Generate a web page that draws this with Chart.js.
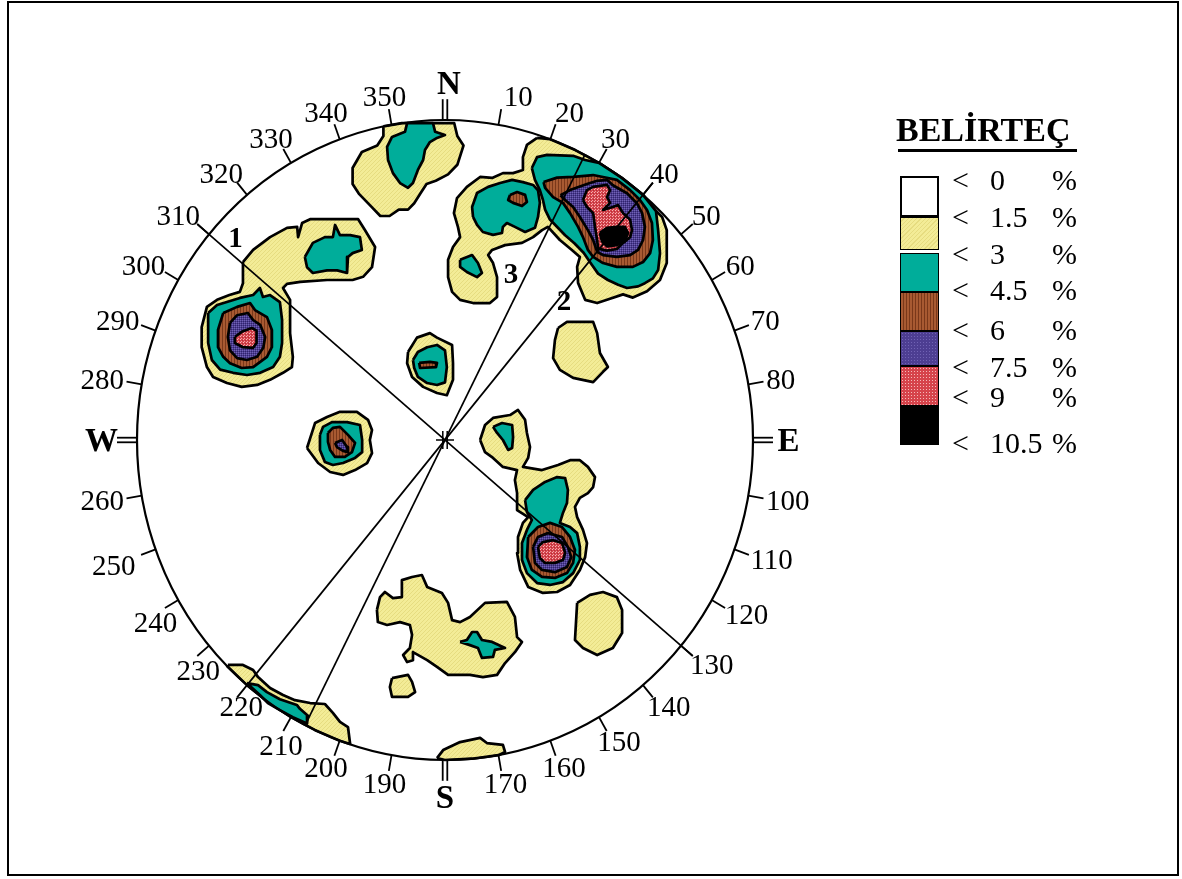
<!DOCTYPE html>
<html lang="tr">
<head>
<meta charset="utf-8">
<title>Kontur diyagramı</title>
<script src="https://cdn.jsdelivr.net/npm/chart.js@4.4.1/dist/chart.umd.min.js"></script>
<style>
  html, body { margin: 0; padding: 0; background: #fff; }
  #page { position: relative; width: 1182px; height: 879px; overflow: hidden;
          font-family: "Liberation Serif", "Times New Roman", serif; color: #000; }
  #frame { position: absolute; left: 7px; top: 1px; width: 1172px; height: 875px;
           border: 2.5px solid #000; box-sizing: border-box; }
  #net { position: absolute; left: 0; top: 0; }
  .legend-title { position: absolute; left: 896px; top: 113px; font-weight: bold;
                  font-size: 34px; line-height: 34px; white-space: nowrap; }
  .legend-rule { position: absolute; left: 898px; top: 149px; width: 179px; height: 2.5px; background: #000; }
  .sw { position: absolute; left: 900px; width: 39px; box-sizing: border-box; border: 1.5px solid #000; }
  .row { position: absolute; font-size: 30px; line-height: 30px; white-space: nowrap; }
</style>
</head>
<body>
<div id="page">
  <canvas id="net" width="1182" height="879"></canvas>
  <div id="frame"></div>
  <div class="legend-title">BELİRTEÇ</div>
  <div class="legend-rule"></div>
  <div id="legend"></div>
</div>
<script>
// compass azimuths of the net ticks and their labels
const azimuths = [10, 20, 30, 40, 50, 60, 70, 80, 100, 110, 120, 130, 140, 150, 160, 170,
                  190, 200, 210, 220, 230, 240, 250, 260, 280, 290, 300, 310, 320, 330, 340, 350];
const tickLabels = azimuths.map(String);
const cardinals = ["N", "E", "S", "W"];
const cardinalAz = [0, 90, 180, 270];

// legend classes (percent)
const legendLevels = ["0", "1.5", "3", "4.5", "6", "7.5", "9", "10.5"];

// traced great circles through the centre (azimuth of the NE / NW end)
const traceNames = ["1", "2", "3"];
const traceAz = [310, 40, 27];

// contour outlines, net units: radius 100, x to east, y to north
// level 1 = 1.5-3 %, 2 = 3-4.5 %, 3 = 4.5-6 %, 4 = 6-7.5 %, 5 = 7.5-9 %, 6 = 9-10.5 %
const north_c1 = [[-20,98],[-14,99],[3,99],[4,95],[6,92],[4,86],[1,83],[-3,81],[-6,80],[-8,77],[-10,74],[-12,72],
  [-15,72],[-18,70],[-21,70],[-24,73],[-28,77],[-30,80],[-30,85],[-27,90],[-22,92],[-20,95]];
const north_c2 = [[-12.3,99],[-3.9,99],[-3.2,96.3],[0,95.3],[-2.6,94.4],[-4.9,93.1],[-6.5,90.6],[-7.1,87.5],
  [-8.8,84.4],[-10.4,80.3],[-12,78.8],[-14.6,80.3],[-16.9,83.4],[-18.5,87.5],[-18.8,91.6],[-17.2,94.7],[-13,96.3]];

const ne_c1 = [[29.9,94.4],[26.6,92.2],[25.3,88.4],[25.3,84.4],[22.1,83.4],[18.8,83.4],[15.3,81.9],[11.4,82.2],
  [7.1,79.1],[3.9,75.6],[2.9,70.9],[4.2,66.6],[4.9,63.4],[2.6,60.3],[1,56.3],[1,50.9],[2.3,46.3],[4.9,43.8],
  [9.1,42.8],[14.6,42.8],[16.9,44.7],[16.9,50.9],[15.6,55.3],[14,57.8],[15.3,59.4],[19.5,60.9],[25,61.6],
  [28.6,63.4],[31.5,65.6],[33.4,66.6],[37.3,62.5],[41.2,59.4],[43.8,57.2],[42.9,54.1],[43.2,49.1],[45.5,43.8],
  [49.4,42.8],[52.6,43.8],[57.8,45.5],[61,44.5],[65.6,46.5],[69.8,50],[72,55.3],[72,65.6],[70.5,69.7],
  [68.2,71.9],[64.3,76.6],[57.4,81.9],[50,86.6],[42.3,90.6],[34.2,94]];
const ne_c2 = [[28.2,85],[29.9,88.4],[33.1,89.1],[41.6,88.8],[45.5,87.5],[50,86.6],[57.4,81.9],[64.3,76.6],
  [68.5,71.5],[69.2,65.6],[69.8,58.4],[69.2,53.1],[67.5,50.5],[64.9,49],[62.7,48],[59.1,47.5],[56.2,48.5],
  [52.9,50],[49.7,52],[47.5,55],[45,58.5],[42,61.5],[39,64],[36.5,66.5],[34,69],[32.5,72],[31.8,75],
  [30.8,78.1],[29.2,81.3]];
const ne_c3 = [[32,80.6],[36.4,82],[41.6,82.2],[48.1,82.8],[51.3,82.2],[55.8,81.3],[60.1,78.1],[63.3,75],
  [65.6,71.9],[67.2,67.8],[67.5,62.5],[66.6,58.4],[64.3,55.6],[61,54.1],[55.8,54.1],[51.3,55.3],[48.1,57.2],
  [46.4,59.4],[44.8,63.4],[43.2,66.6],[40.6,70.9],[38.3,74.1],[35.1,75.9],[32.5,78.8]];
const ne_c4 = [[37.5,76.5],[40.6,78.1],[46.1,80],[49.4,81],[52.6,81.3],[54.5,79.6],[59.1,77.1],[62.3,74],
  [64,70.9],[64.9,66.6],[64.3,62.5],[62.7,59.4],[60.1,57.8],[55.8,57.2],[51.3,57.8],[49.4,58.8],[48.1,62.5],
  [46.4,65.6],[43.8,69.7],[41.6,72.8],[39,75]];
const ne_c5 = [[44.8,75],[46.1,78.1],[48.1,79.1],[52.6,79.7],[53.6,78.1],[52.6,75.9],[53.6,74.1],[51.3,71.9],
  [54.5,72.8],[56.2,73.4],[57.8,70.9],[60.1,68.8],[60.7,65.6],[60.1,63.4],[57.8,61.6],[55.8,59.7],[52.6,59.2],
  [49.7,59.8],[49.4,62.5],[48.7,66.6],[48.1,70.9],[46.1,72.8]];
const ne_c6 = [[50.3,64.7],[52.6,66.3],[55.8,66.6],[58.4,66.6],[59.4,64.7],[58.4,62],[55.8,60.9],[52.6,60.5],[51,62]];
const nne_c2 = [[9.1,69.7],[8.8,72.8],[10.4,77.2],[14,79.1],[17.9,80.3],[21.8,81.3],[25.3,80.6],[28.6,79.7],
  [30.2,78],[30.8,74.1],[30.2,69.7],[29.2,66.3],[26,65],[22.7,66.6],[20.1,67.8],[18.8,66.6],[18.5,64.7],
  [15.6,64.1],[12.3,65],[10.4,67.2]];
const nne_c3 = [[21.1,76.6],[23.4,77.5],[26,76.6],[26.6,74.4],[25,73.1],[22.1,74.1],[20.5,75]];
const nne_low_c2 = [[4.9,56.3],[8.8,57.8],[10.7,55.3],[12,52.2],[10.4,50.9],[7.1,52.5],[4.9,54.1]];

const nw_c1 = [[-65.6,55.6],[-62.3,59.4],[-56.8,63.4],[-51.3,66.3],[-48,66.6],[-47.7,63.4],[-46.4,67.8],
  [-43.8,69],[-28.2,69],[-26,65.6],[-22.7,60.3],[-23.7,54],[-26.6,51],[-30,50],[-38.3,50],[-47,49.4],
  [-51.3,48.8],[-52.6,47.5],[-50.3,43.8],[-50.3,40.6],[-50.3,33.4],[-49.4,26],[-49.7,22.8],[-52.6,21],
  [-56.8,18.8],[-61,17.2],[-66,16.6],[-70.8,17.8],[-75.3,19.7],[-77.3,22.8],[-79,29],[-79,35.3],[-77.3,41.6],
  [-74,43.8],[-70,45.3],[-66.6,46.3],[-65.6,49],[-65.6,53]];
const nnw_c2 = [[-45.5,57.2],[-42.9,61.6],[-39,63.4],[-36.4,63.4],[-35.7,67.2],[-34.1,64],[-30.8,64],[-27.6,63.4],
  [-27,59.4],[-30,58.4],[-31.5,57.2],[-31.8,52.2],[-35,53],[-38.3,53],[-42.9,52.2],[-44.8,54]];
const nw_c2 = [[-76.9,39.7],[-74,42.2],[-66.6,44.4],[-62.3,45.3],[-60.1,47.5],[-59.1,44.7],[-56.8,45.3],
  [-53.6,43.1],[-52.9,37.5],[-52.9,30.3],[-53.6,26],[-55.8,22.8],[-60,21],[-64.3,20.3],[-68.8,21],[-73,22],
  [-75.7,25],[-76.9,30.3],[-76.9,35.3]];
const nw_c3 = [[-72,39.7],[-67.5,41.6],[-63.3,42.8],[-61.7,40.6],[-57.8,38.4],[-56.2,34.4],[-56.2,29],[-57.8,26],
  [-62.3,22.8],[-66,22.5],[-69.8,24],[-72,26],[-73.7,29],[-73.7,34.4]];
const nw_c4 = [[-69.8,36.6],[-67.5,39],[-64,39.7],[-62.3,37.5],[-60,36],[-58.4,32.2],[-59,28.8],[-61,26],
  [-64.3,25],[-67.5,25.6],[-69.8,28],[-70.5,32.2]];
const nw_c5 = [[-68.2,32.2],[-66,33.8],[-62.7,35],[-61.2,34.2],[-61.2,30.3],[-62.3,28.8],[-65.6,29],[-68.2,30.3]];

const mid_c1 = [[-12,27.5],[-9.1,32],[-4.9,33.4],[-2.6,32],[2.3,29.7],[2.6,24],[2.6,18.8],[0.6,14],[-2.6,14.7],
  [-7.1,16.6],[-10.7,19.7],[-12.3,24]];
const mid_c2 = [[-10.4,25],[-8.8,27.5],[-5.8,29],[-2.6,29.7],[0,28],[0.6,22.8],[0,18],[-2.6,17.2],[-5.8,17.8],
  [-8.8,19.7],[-10,22.5]];
const mid_c3 = [[-8.4,24.1],[-4.9,24.4],[-2.6,24.1],[-2.9,22.8],[-8.1,22.5]];

const west_c1 = [[-44.8,-2.5],[-42.2,5.3],[-38.3,7.2],[-34.1,8.8],[-28.6,8.8],[-25,6.3],[-23.7,3.1],[-24.4,0],
  [-23.7,-4.1],[-25.3,-7.2],[-29.2,-9.4],[-33.1,-10.9],[-37.3,-10],[-41.2,-7.2]];
const west_c2 = [[-40.6,1.6],[-39.6,4.1],[-36.7,5.6],[-31.8,5.6],[-27.6,4.7],[-26.9,0],[-26.9,-3.8],[-29.2,-5.6],
  [-33.1,-7.2],[-36.4,-7.8],[-39,-6.9],[-40.6,-3.1]];
const west_c3 = [[-38,2.2],[-36.4,3.8],[-34.1,4.1],[-31.5,1.6],[-29.2,-0.9],[-30.2,-3.8],[-32.5,-5.3],[-35.7,-5.3],
  [-37.3,-3.1],[-38,-0.6]];
const west_c4 = [[-35.7,-0.9],[-33.4,0],[-31.8,-2.2],[-31.5,-3.8],[-33.1,-3.4],[-35.1,-2.2]];

const se_c1 = [[11.4,0],[13,4.7],[15.6,6.9],[21.1,7.8],[23.7,9.4],[26,6.3],[26.6,2.2],[27.6,-2.2],[27,-5.6],
  [25.3,-8.4],[31.5,-9.4],[36.7,-7.8],[40.6,-6.3],[43.8,-6.3],[46.4,-8.4],[48.7,-11.6],[48.1,-14.7],[46.4,-16.6],
  [43.8,-18.1],[42.2,-20.9],[42.9,-24.1],[44.8,-28.1],[46.1,-32.2],[45.5,-36.6],[43.8,-40.6],[40.6,-45.3],
  [36.4,-47.5],[31.8,-47.8],[27,-45.9],[24.4,-40.6],[23.4,-35.3],[23.7,-30.3],[25.3,-25.9],[27,-24.1],
  [23.4,-21.9],[23.4,-16.6],[22.7,-12.5],[23.4,-9.4],[18.8,-8.4],[15.6,-5.6],[13,-3.8]];
const se_top_c2 = [[15.6,4.1],[18.5,5.3],[21.8,4.7],[22.1,0.9],[21.8,-2.5],[20.5,-3.1],[18.8,0],[16.9,2.2]];
const se_c2 = [[26,-18.8],[28.6,-15.6],[32.5,-13.1],[36.4,-11.6],[39,-11.9],[39.9,-15.6],[39.6,-19.7],[38.3,-22.8],
  [37.3,-25.9],[40.6,-27.2],[42.9,-29.1],[43.8,-33.4],[43.8,-37.5],[41.6,-41.6],[38.3,-44.4],[34.1,-45.3],
  [29.9,-44.7],[26.6,-41.6],[25,-37.5],[25,-32.2],[26.6,-28.1],[28.2,-25],[26.6,-22.5]];
const se_c3 = [[27,-30.3],[30.2,-27.2],[34.1,-25.9],[38,-27.2],[40.6,-30.3],[42.2,-34.4],[41.6,-38.4],[39.6,-41.6],
  [35.7,-43.1],[31.5,-42.8],[28.2,-40.6],[26.6,-36.6]];
const se_c4 = [[28.6,-33.4],[30.2,-30.3],[33.4,-29.1],[38,-30.3],[39.9,-33.4],[41,-36.6],[39.6,-39.7],[35.7,-41.3],
  [31.5,-40.6],[29.2,-38.4]];
const se_c5 = [[30.2,-33.4],[31.8,-31.9],[35.1,-31.3],[38,-32.2],[39,-35.3],[38.3,-37.5],[35.7,-38.4],[32.5,-38.4],
  [30.8,-36.9]];

const east_c1 = [[36.7,35],[39.6,36.9],[48.1,36.9],[49.4,33.4],[50.3,27.2],[52.9,22.8],[51.3,21.3],[48.1,18.1],
  [41.6,19.4],[37.3,21.9],[35.1,25.6],[35.7,31.3]];
const sse_c1 = [[42.9,-50.9],[47.1,-48.4],[51.3,-47.5],[55.8,-49.1],[57.5,-53.1],[57.5,-60.3],[54.5,-65],
  [49.4,-67.2],[44.8,-65],[42.2,-62.5]];
const south_c1 = [[-22.1,-53.1],[-21.1,-49.1],[-19.5,-47.5],[-16.9,-49.4],[-14,-49.1],[-14,-43.8],[-10.7,-42.8],
  [-7.5,-42.2],[-5.8,-45.9],[-1,-47.8],[1,-50.9],[2.3,-56.3],[4.9,-56.9],[8.1,-55.3],[13,-50.9],[20.1,-50.6],
  [22.7,-55.3],[23.4,-61.6],[25,-63.1],[22.7,-66.3],[19.5,-69.7],[16.9,-73.4],[12.3,-74.1],[8.1,-73.4],[1,-73.4],
  [-2.6,-70.9],[-5.8,-68.8],[-10.4,-66.3],[-10.4,-68.8],[-12.3,-69.4],[-13.6,-67.2],[-11.4,-65],[-10.7,-60.9],
  [-11.4,-57.8],[-14.6,-56.9],[-18.8,-57.8],[-21.8,-56.9]];
const south_c2 = [[4.9,-63.1],[7.1,-62.5],[8.8,-60],[10.4,-60],[12,-62.5],[15.3,-63.1],[19.5,-65],[16.2,-65.6],
  [15.6,-67.8],[12,-68.1],[10.7,-65],[8.1,-64.1]];
const ssw_c1 = [[-17.2,-74.4],[-12,-73.4],[-10.7,-75.6],[-9.7,-78.8],[-12,-80.3],[-17.2,-80.3],[-17.9,-77.2]];
const rim_s_c1 = [[-2.6,-99.4],[-0.6,-96.9],[4.9,-94.4],[11.4,-93.1],[13.6,-94.7],[18.8,-95.3],[19.5,-97.5],
  [17.4,-98.5],[8.7,-99.6],[0,-100]];
const rim_sw_c1 = [[-70.5,-70.3],[-65.6,-70.3],[-62.3,-71.9],[-60.7,-74.1],[-56.8,-77.5],[-52.6,-79.7],[-48.7,-81.3],
  [-43.8,-82.2],[-39,-82.5],[-36.4,-85.3],[-34.1,-88.1],[-31.5,-89.7],[-30.8,-95],[-34.2,-94],[-42.3,-90.6],
  [-50,-86.6],[-57.4,-81.9],[-64.3,-76.6],[-70.7,-70.7]];
const rim_sw_c2 = [[-64.3,-76],[-60.7,-76.6],[-57.8,-78.8],[-53.6,-81],[-48.1,-82.8],[-47.1,-84],[-44.5,-86.2],
  [-44.8,-88.6],[-49.4,-86.6],[-53.6,-84.4],[-57.5,-82.2],[-60.1,-79.7]];

const contours = [
  [1, north_c1], [2, north_c2],
  [1, ne_c1], [2, ne_c2], [3, ne_c3], [4, ne_c4], [5, ne_c5], [6, ne_c6],
  [2, nne_c2], [3, nne_c3], [2, nne_low_c2],
  [1, nw_c1], [2, nnw_c2], [2, nw_c2], [3, nw_c3], [4, nw_c4], [5, nw_c5],
  [1, mid_c1], [2, mid_c2], [3, mid_c3],
  [1, west_c1], [2, west_c2], [3, west_c3], [4, west_c4],
  [1, se_c1], [2, se_top_c2], [2, se_c2], [3, se_c3], [4, se_c4], [5, se_c5],
  [1, east_c1], [1, sse_c1], [1, south_c1], [2, south_c2], [1, ssw_c1],
  [1, rim_s_c1], [1, rim_sw_c1], [2, rim_sw_c2]
];

// ---- layout / style ----
const W = 1182, H = 879, CX = 445, CY = 440, RX = 308, RY = 320;
const traceReach = [[105, 105], [105, 100], [100, 100]];
const traceLabelAt = [[313, 93], [41.4, 58.4], [22.3, 56.4]];
const labelNudge = { 10: [14, 0], 20: [8, 0], 210: [10, 4], 220: [20, 0], 230: [20, 6], 240: [12, 8], 250: [-4, 6] };

function tile(size, base, marks) {
  const c = document.createElement("canvas");
  c.width = size; c.height = size;
  const g = c.getContext("2d");
  g.fillStyle = base;
  g.fillRect(0, 0, size, size);
  marks.forEach(([x, y, col]) => { g.fillStyle = col; g.fillRect(x, y, 1, 1); });
  return g.createPattern(c, "repeat");
}
const fills = {
  1: tile(4, "#f3ec97", [[0, 3, "#e6dc80"], [1, 2, "#e6dc80"], [2, 1, "#e6dc80"], [3, 0, "#e6dc80"]]),
  2: "#00ad9a",
  3: tile(3, "#a85a32", [[0, 0, "#7a381a"], [0, 1, "#7a381a"], [0, 2, "#7a381a"]]),
  4: tile(2, "#4d3e92", [[0, 0, "#7062b4"], [1, 1, "#30246c"]]),
  5: tile(3, "#d6434b", [[0, 0, "#f4b8b8"], [2, 1, "#b5303a"], [1, 2, "#f0a0a4"]]),
  6: "#000"
};

function polar(az, r) {
  const a = az * Math.PI / 180;
  return { x: r * Math.sin(a), y: r * Math.cos(a) };
}

const datasets = [];
contours.forEach(([level, ring]) => {
  datasets.push({
    data: ring.concat([ring[0]]).map(([x, y]) => ({ x, y })),
    showLine: true,
    fill: "shape",
    backgroundColor: fills[level],
    borderColor: "#000",
    borderWidth: 2.7,
    borderJoinStyle: "round",
    pointRadius: 0,
    order: 10 - level
  });
});
traceAz.forEach((az, i) => {
  datasets.push({
    data: [polar(az, traceReach[i][0]), polar(az + 180, traceReach[i][1])],
    showLine: true,
    fill: false,
    borderColor: "#000",
    borderWidth: 1.7,
    pointRadius: 0,
    order: 0
  });
});

const netFrame = {
  id: "netFrame",
  afterDatasetsDraw(chart) {
    const { ctx, scales: { x, y } } = chart;
    const at = (az, r) => {
      const p = polar(az, r);
      return [x.getPixelForValue(p.x), y.getPixelForValue(p.y)];
    };
    const [cx, cy] = at(0, 0);
    ctx.save();
    ctx.strokeStyle = "#000";
    ctx.fillStyle = "#000";
    ctx.lineWidth = 2.2;
    ctx.beginPath();
    ctx.ellipse(cx, cy, x.getPixelForValue(100) - cx, cy - y.getPixelForValue(100), 0, 0, 2 * Math.PI);
    ctx.stroke();

    // 10 degree ticks with labels
    ctx.lineWidth = 1.8;
    ctx.font = '29px "Liberation Serif"';
    ctx.textAlign = "center";
    ctx.textBaseline = "alphabetic";
    azimuths.forEach((az, i) => {
      const [x0, y0] = at(az, 100), [x1, y1] = at(az, 105);
      ctx.beginPath(); ctx.moveTo(x0, y0); ctx.lineTo(x1, y1); ctx.stroke();
      const a = az * Math.PI / 180, dx = Math.sin(a), dy = -Math.cos(a);
      const w = ctx.measureText(tickLabels[i]).width, h = 19, gap = 3;
      const n = labelNudge[az] || [0, 0];
      const lx = x1 + dx * (gap + w / 2) + n[0];
      const ly = y1 + dy * (gap + h / 2) + n[1];
      ctx.fillText(tickLabels[i], lx, ly + h / 2);
    });

    // cardinal points: double tick + bold letter
    ctx.font = 'bold 33px "Liberation Serif"';
    cardinals.forEach((name, i) => {
      const az = cardinalAz[i], a = az * Math.PI / 180;
      const px = Math.cos(a) * 2.3, py = Math.sin(a) * 2.3;
      const [x0, y0] = at(az, 100), [x1, y1] = at(az, 106.5);
      [-1, 1].forEach(s => {
        ctx.beginPath();
        ctx.moveTo(x0 + s * px, y0 + s * py);
        ctx.lineTo(x1 + s * px, y1 + s * py);
        ctx.stroke();
      });
      const [lx, ly] = at(az, 111.5);
      ctx.fillText(name, lx + (az === 0 ? 4 : 0), ly + 11);
    });

    // centre mark
    ctx.lineWidth = 1.5;
    ctx.beginPath();
    ctx.moveTo(cx - 9, cy); ctx.lineTo(cx + 9, cy);
    ctx.moveTo(cx - 2.2, cy - 9); ctx.lineTo(cx - 2.2, cy + 9);
    ctx.moveTo(cx + 2.2, cy - 9); ctx.lineTo(cx + 2.2, cy + 9);
    ctx.stroke();

    // trace numbers
    ctx.font = 'bold 29px "Liberation Serif"';
    traceNames.forEach((name, i) => {
      const [lx, ly] = at(traceLabelAt[i][0], traceLabelAt[i][1]);
      ctx.fillText(name, lx, ly + 10);
    });
    ctx.restore();
  }
};

new Chart(document.getElementById("net"), {
  type: "scatter",
  data: { datasets },
  options: {
    responsive: false,
    animation: false,
    devicePixelRatio: 1,
    events: [],
    layout: { padding: 0 },
    plugins: { legend: { display: false }, tooltip: { enabled: false } },
    scales: {
      x: { type: "linear", display: false, min: -100 * CX / RX, max: 100 * (W - CX) / RX },
      y: { type: "linear", display: false, min: -100 * (H - CY) / RY, max: 100 * CY / RY }
    }
  },
  plugins: [netFrame]
});

// legend: colour column and class labels
const swatchFill = ["#fff",
  "repeating-linear-gradient(135deg,#f3ec97 0 2px,#e6dc80 2px 3px)",
  "#00ad9a",
  "repeating-linear-gradient(90deg,#a85a32 0 2px,#7a381a 2px 3px)",
  "radial-gradient(#7062b4 0.8px,#4d3e92 1px) 0 0/3px 3px",
  "radial-gradient(#f4b8b8 0.8px,#d6434b 1px) 0 0/3px 3px",
  "#000"];
const swatchTop = [176, 217, 253, 292, 331, 366, 406];
const swatchBottom = [217, 250, 292, 331, 366, 406, 445];
const rowMid = [180, 217, 254, 290, 330, 367, 397, 443];
const legend = document.getElementById("legend");
swatchFill.forEach((bg, i) => {
  const d = document.createElement("div");
  d.className = "sw";
  d.style.top = swatchTop[i] + "px";
  d.style.height = (swatchBottom[i] - swatchTop[i]) + "px";
  d.style.background = bg;
  if (i === 0) d.style.borderWidth = "2px";
  legend.appendChild(d);
});
legendLevels.forEach((lv, i) => {
  [["<", 952], [lv, 990], ["%", 1052]].forEach(([t, left]) => {
    const s = document.createElement("div");
    s.className = "row";
    s.textContent = t;
    s.style.left = left + "px";
    s.style.top = (rowMid[i] - 15) + "px";
    legend.appendChild(s);
  });
});
</script>
</body>
</html>
